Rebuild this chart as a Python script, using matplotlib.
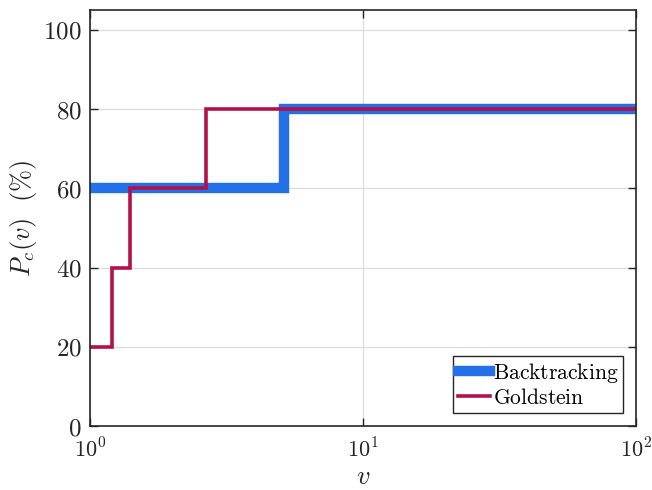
import math
import matplotlib
matplotlib.use('Agg')
import matplotlib.pyplot as plt
from matplotlib.ticker import FuncFormatter, FixedLocator, NullLocator

plt.rcParams['mathtext.fontset'] = 'cm'
plt.rcParams['font.family'] = 'serif'
plt.rcParams['font.serif'] = ['DejaVu Serif']

# performance profile data
back_v = [1.0, 5.13, 100.0]
back_p = [60, 80, 80]
gold_v = [1.0, 1.2, 1.4, 2.66, 100.0]
gold_p = [20, 40, 60, 80, 80]
yticks = [0, 20, 40, 60, 80, 100]
xticks = [1, 10, 100]

fig = plt.figure(figsize=(6.52, 4.9), dpi=100)
ax = fig.add_axes([90/652, 1-426/490, 546/652, 416/490])

ax.plot(back_v, back_p, drawstyle='steps-post', color='#2370e8', lw=7.5,
        label=r'$\mathrm{Backtracking}$', solid_joinstyle='miter')
ax.plot(gold_v, gold_p, drawstyle='steps-post', color='#b5104a', lw=2.6,
        label=r'$\mathrm{Goldstein}$', solid_joinstyle='miter')

ax.set_xscale('log')
ax.set_xlim(1, 100)
ax.set_ylim(0, 105)
ax.xaxis.set_major_locator(FixedLocator(xticks))
ax.xaxis.set_minor_locator(NullLocator())
ax.set_yticks(yticks)
ax.xaxis.set_major_formatter(FuncFormatter(lambda v, p: r'$10^{%d}$' % round(math.log10(v))))
ax.yaxis.set_major_formatter(FuncFormatter(lambda v, p: r'$%d$' % v))
ax.tick_params(direction='in', length=6, width=1, top=True, right=True,
               colors='#262626', labelcolor='#262626')
ax.tick_params(axis='x', pad=9, labelsize=16)
ax.tick_params(axis='y', pad=6, labelsize=18)
for s in ax.spines.values():
    s.set_linewidth(1.2)
    s.set_color('#262626')
ax.grid(True, color='#dcdcdc', lw=0.9)
ax.set_axisbelow(True)

ax.set_xlabel(r'$v$', fontsize=19, color='#262626', labelpad=1)
ax.set_ylabel(r'$P_c(v)\ \ (\%)$', fontsize=19, color='#262626', labelpad=3)

leg = ax.legend(loc='lower right', fontsize=15.5, fancybox=False, framealpha=1,
                edgecolor='#262626', handlelength=1.5, handletextpad=0.15,
                borderpad=0.2, labelspacing=0.1, borderaxespad=0.6)
leg.get_frame().set_linewidth(1.0)

fig.savefig('out.png', dpi=100)
